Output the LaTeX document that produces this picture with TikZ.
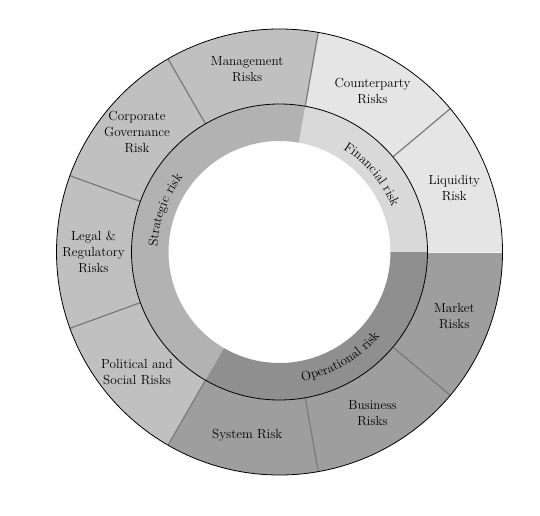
\documentclass[tikz,border=0pt]{standalone}
\usetikzlibrary{decorations.text}
\definecolor{finin}{gray}{0.85}
\definecolor{finout}{gray}{0.898}
\definecolor{strin}{gray}{0.70}
\definecolor{strout}{gray}{0.753}
\definecolor{opin}{gray}{0.56}
\definecolor{opout}{gray}{0.62}
\definecolor{divcol}{gray}{0.48}
\begin{document}
\begin{tikzpicture}[x=1pt,y=1pt,
  lab/.style={align=center, font=\fontsize{13.2}{16}\selectfont, inner sep=0pt},
  divider/.style={draw=divcol, line width=1.2pt},
  ringline/.style={draw=black, line width=0.8pt}]
\useasboundingbox (0,0) rectangle (540,515);
\coordinate (O) at (279.5,263);
\def\Ro{223}
\def\Rm{148}
\def\Ri{111}
% inner ring
\foreach \a/\b/\c in {0/80/finin, 80/240/strin, 240/360/opin}{
  \fill[\c] ([shift={(\a:\Ri)}]O) arc[start angle=\a, end angle=\b, radius=\Ri]
    -- ([shift={(\b:\Rm)}]O) arc[start angle=\b, end angle=\a, radius=\Rm] -- cycle;
}
% outer ring
\foreach \a/\b/\c in {0/80/finout, 80/240/strout, 240/360/opout}{
  \fill[\c] ([shift={(\a:\Rm)}]O) arc[start angle=\a, end angle=\b, radius=\Rm]
    -- ([shift={(\b:\Ro)}]O) arc[start angle=\b, end angle=\a, radius=\Ro] -- cycle;
}
% dividers
\foreach \a in {40,80,120,160,200,240,280,320}{
  \draw[divider] ([shift={(\a:\Rm)}]O) -- ([shift={(\a:\Ro)}]O);
}
\draw[draw=white!90!gray, line width=0.8pt] ([shift={(0:\Rm)}]O) -- ([shift={(0:\Ro)}]O);
% circles
\draw[ringline] (O) circle[radius=\Ro];
\draw[ringline] (O) circle[radius=\Rm];
% outer labels
\node[lab] (mgmt) at ([shift={(100:186)}]O) {Management\\Risks};
\node[lab] (cpty) at ([shift={(60:186)}]O) {Counterparty\\Risks};
\node[lab] (liq) at ([shift={(20:186)}]O) {Liquidity\\Risk};
\node[lab] (mkt) at ([shift={(-20:186)}]O) {Market\\Risks};
\node[lab] (bus) at ([shift={(-60:186)}]O) {Business\\Risks};
\node[lab] (sys) at ([shift={(-100:186)}]O) {System Risk};
\node[lab] (pol) at ([shift={(220:186)}]O) {Political and\\Social Risks};
\node[lab] (legal) at ([shift={(180:186)}]O) {Legal \&\\Regulatory\\Risks};
\node[lab] (corp) at ([shift={(140:186)}]O) {Corporate\\Governance\\Risk};
% inner labels
\path[decorate, decoration={text along path, text align=center,
   text={|\fontsize{13.2}{16}\selectfont|Financial risk}}]
   ([shift={(78:121)}]O) arc[start angle=78, end angle=2, radius=121];
\path[decorate, decoration={text along path, text align=center,
   text={|\fontsize{13.2}{16}\selectfont|Strategic risk}}]
   ([shift={(198:122)}]O) arc[start angle=198, end angle=122, radius=122];
\path[decorate, decoration={text along path, text align=center,
   text={|\fontsize{13.2}{16}\selectfont|Operational risk}}]
   ([shift={(262:131)}]O) arc[start angle=262, end angle=338, radius=131];
\end{tikzpicture}
\end{document}
